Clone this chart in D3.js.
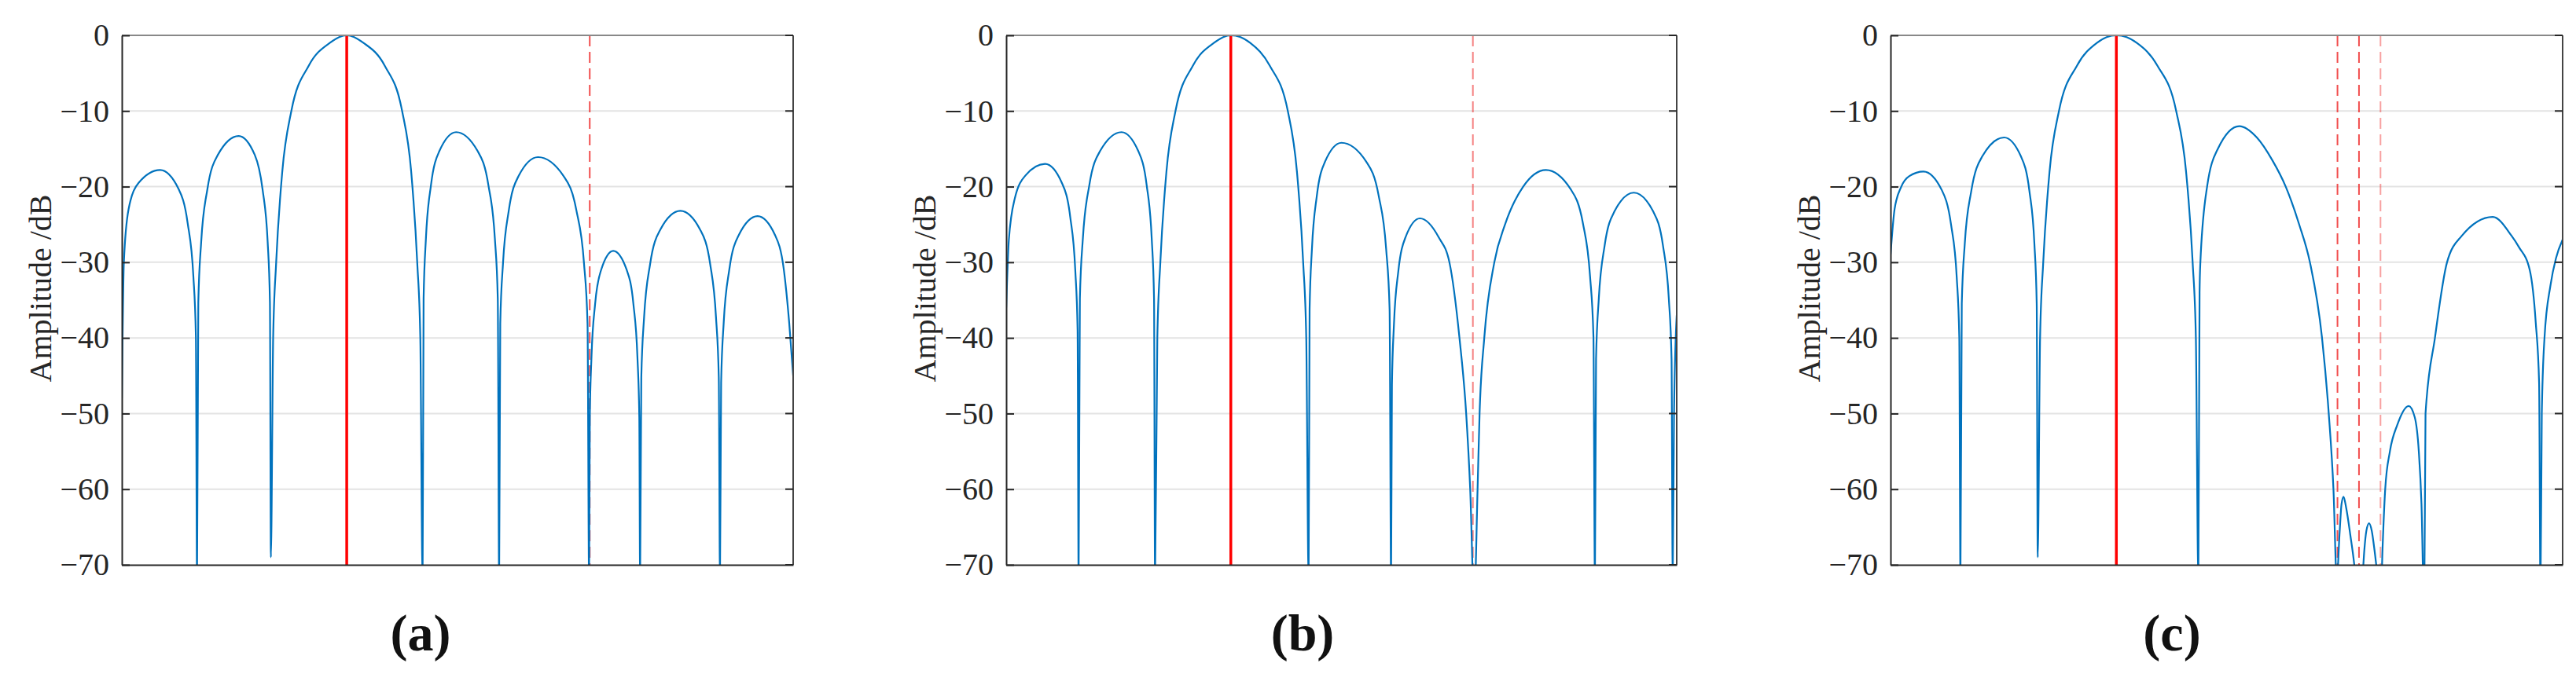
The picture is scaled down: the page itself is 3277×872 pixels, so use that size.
<!DOCTYPE html>
<html>
<head>
<meta charset="utf-8">
<script src="https://cdn.jsdelivr.net/npm/d3@7"></script>
<style>
  body { margin: 0; background: #fff; }
  text { font-family: "Liberation Serif", "DejaVu Serif", serif; fill: #262626; }
</style>
</head>
<body>
<script>
// beam pattern, x in % of the plot width, y in dB
var patternA = [
  [0,-48],[0.3,-30],[1,-23],[2.5,-19.5],[5.7,-17.8],[8.45,-20.3],[9.8,-24.8],[10.65,-31.8],[11.03,-39.8],[11.2,-72],
  [11.39,-35.3],[11.82,-27.3],[12.75,-20.3],[14.3,-15.8],[17.4,-13.3],[19.8,-15.8],[20.95,-20.3],[21.72,-27.3],[22.06,-35.3],[22.2,-69],
  [22.54,-40],[22.99,-30],[23.9,-18],[25.25,-10],[27.85,-4],[30.97,-1],[33.5,0],[36.0,-1],[39.15,-4],[41.75,-10],[43.1,-18],[44.0,-30],[44.46,-40],[44.8,-72],
  [44.95,-34.8],[45.3,-26.8],[46.05,-19.8],[47.3,-15.3],[49.8,-12.8],[53.0,-15.3],[54.6,-19.8],[55.56,-26.8],[56.0,-34.8],[56.2,-72],
  [56.37,-38.1],[56.78,-30.1],[57.65,-23.1],[59.1,-18.6],[62.0,-16.1],[65.8,-18.6],[67.7,-23.1],[68.84,-30.1],[69.37,-38.1],[69.6,-72],
  [69.71,-50.5],[69.96,-42.5],[70.5,-35.5],[71.4,-31],[73.2,-28.5],[75.2,-31],[76.2,-35.5],[76.8,-42.5],[77.08,-50.5],[77.2,-72],
  [77.38,-45.2],[77.8,-37.2],[78.7,-30.2],[80.2,-25.7],[83.2,-23.2],[86.15,-25.7],[87.63,-30.2],[88.5,-37.2],[88.92,-45.2],[89.1,-72],
  [89.27,-45.9],[89.66,-37.9],[90.5,-30.9],[91.9,-26.4],[94.7,-23.9],[97.3,-26.4],[98.6,-30.9],[99.4,-37.9],[100,-45]
];
var patternB = [
  [0,-36],[0.4,-27],[1.3,-21.5],[2.9,-18.5],[5.8,-17],[8.3,-19.5],[9.55,-24],[10.3,-31],[10.65,-39],[10.8,-72],
  [10.99,-34.8],[11.44,-26.8],[12.4,-19.8],[14.0,-15.3],[17.2,-12.8],[19.7,-15.3],[20.95,-19.8],[21.7,-26.8],[22.05,-34.8],[22.2,-72],
  [22.54,-40],[22.99,-30],[23.9,-18],[25.25,-10],[27.85,-4],[30.97,-1],[33.5,0],[36.4,-1],[39.3,-4],[42.0,-10],[43.36,-18],[44.29,-30],[44.75,-40],[45.1,-72],
  [45.25,-36.2],[45.6,-28.2],[46.33,-21.2],[47.55,-16.7],[50.0,-14.2],[53.7,-16.7],[55.55,-21.2],[56.66,-28.2],[57.18,-36.2],[57.4,-72],
  [57.53,-46.2],[57.83,-38.2],[58.48,-31.2],[59.55,-26.7],[61.7,-24.2],[64.5,-26.7],[66.1,-30],[67.6,-40],[68.6,-50],[69.2,-60],[69.8,-75],
  [70.3,-60],[70.6,-50],[71.3,-40],[72.8,-30],[74.4,-25],[77.1,-20],[80.5,-17.8],[84.15,-20.3],[86.0,-24.8],[87.07,-31.8],[87.58,-39.8],[87.8,-72],
  [87.97,-42.8],[88.38,-34.8],[89.25,-27.8],[90.7,-23.3],[93.6,-20.8],[96.5,-23.3],[97.95,-27.8],[98.82,-34.8],[99.23,-42.8],[99.4,-72],
  [99.6,-50],[100,-37]
];
var patternC = [
  [0,-29],[0.6,-23],[1.6,-20],[2.8,-18.6],[4.9,-18],[7.65,-20.5],[9.0,-25],[9.85,-32],[10.23,-40],[10.4,-72],
  [10.6,-35.5],[11.05,-27.5],[12.03,-20.5],[13.65,-16],[16.9,-13.5],[19.4,-16],[20.65,-20.5],[21.4,-27.5],[21.75,-35.5],[21.9,-69],
  [22.25,-40],[22.72,-30],[23.66,-18],[25.06,-10],[27.75,-4],[30.7,-1],[33.6,0],[36.65,-1],[39.7,-4],[42.5,-10],[43.97,-18],[44.95,-30],[45.43,-40],[45.8,-72],
  [45.98,-34],[46.1,-30],[47.1,-20],[48.7,-15],[51.9,-12],[54.5,-13.5],[56.8,-16.5],[58.8,-20],[60.8,-25],[62.4,-30],[64.2,-40],[65.2,-50],[65.9,-60],[66.4,-72],
  [66.8,-66],[67.1,-62],[67.4,-61],[67.8,-62.5],[68.4,-66],[69.0,-70],[69.6,-76],[70.2,-72],[70.5,-68],[70.8,-65.5],[71.2,-64.5],[71.6,-65.5],[72.0,-68],[72.5,-72],[72.9,-76],
  [73.2,-68],[73.6,-60],[74.3,-55],[75.4,-51.5],[77.1,-49],[78.0,-50.5],[78.6,-55],[79.0,-62],[79.4,-76],
  [79.6,-50],[81,-40],[82.8,-30],[85.0,-26.5],[89.6,-24],[92.4,-26.5],[93.5,-28],[95.1,-31],[96.0,-38],[96.5,-46],[96.7,-74],
  [96.9,-50],[97.3,-40],[98.2,-33],[99.0,-29.5],[100,-27]
];

// red markers: solid = steering direction, dashed = nulls
var steerA = 33.5, nullsA = [69.7];
var steerB = 33.5, nullsB = [69.6];
var steerC = 33.6, nullsC = [66.5, 69.7, 72.9];
var nullOpacityA = [0.85], nullOpacityB = [0.6], nullOpacityC = [0.85, 0.85, 0.45];

var yTicks = [0, -10, -20, -30, -40, -50, -60, -70];
var panelLabels = ["(a)", "(b)", "(c)"];

var panels = [
  {left: 155, right: 1009, data: patternA, steer: steerA, nulls: nullsA, op: nullOpacityA, lab: 535},
  {left: 1280, right: 2133, data: patternB, steer: steerB, nulls: nullsB, op: nullOpacityB, lab: 1657},
  {left: 2405, right: 3260, data: patternC, steer: steerC, nulls: nullsC, op: nullOpacityC, lab: 2763}
];
var plotTop = 45, plotBottom = 719;

var svg = d3.select("body").append("svg")
    .attr("width", 3277)
    .attr("height", 872);

var y = d3.scaleLinear().domain([-70, 0]).range([plotBottom, plotTop]);

panels.forEach(function(p, i) {
  var x = d3.scaleLinear().domain([0, 100]).range([p.left, p.right]);
  var g = svg.append("g");

  // grid
  g.selectAll(".grid").data(yTicks.slice(1, -1)).enter().append("line")
      .attr("x1", p.left).attr("x2", p.right)
      .attr("y1", d => y(d)).attr("y2", d => y(d))
      .attr("stroke", "#e3e3e3").attr("stroke-width", 2);

  g.append("clipPath").attr("id", "clip" + i)
    .append("rect").attr("x", p.left).attr("y", plotTop)
      .attr("width", p.right - p.left).attr("height", plotBottom - plotTop);

  var plot = g.append("g").attr("clip-path", "url(#clip" + i + ")");

  plot.selectAll(".null").data(p.nulls).enter().append("line")
      .attr("x1", d => x(d)).attr("x2", d => x(d))
      .attr("y1", plotTop).attr("y2", plotBottom)
      .attr("stroke", "#f03030").attr("stroke-width", 2)
      .attr("stroke-dasharray", "14,7")
      .attr("opacity", (d, j) => p.op[j]);

  plot.append("path")
      .datum(p.data)
      .attr("fill", "none")
      .attr("stroke", "#0072BD")
      .attr("stroke-width", 2.2)
      .attr("d", d3.line().x(d => x(d[0])).y(d => y(d[1])).curve(d3.curveMonotoneX));

  plot.append("line")
      .attr("x1", x(p.steer)).attr("x2", x(p.steer))
      .attr("y1", plotTop).attr("y2", plotBottom)
      .attr("stroke", "#ff0000").attr("stroke-width", 3.5);

  // box
  g.append("line").attr("x1", p.left).attr("x2", p.right).attr("y1", plotTop).attr("y2", plotTop)
      .attr("stroke", "#888").attr("stroke-width", 2);
  g.append("line").attr("x1", p.right).attr("x2", p.right).attr("y1", plotTop).attr("y2", plotBottom)
      .attr("stroke", "#444").attr("stroke-width", 2);

  g.append("g")
      .attr("transform", "translate(0," + plotBottom + ")")
      .call(d3.axisBottom(x).tickValues([]).tickSizeOuter(0))
      .call(a => a.select(".domain").attr("stroke", "#262626").attr("stroke-width", 2));

  var yAxis = g.append("g")
      .attr("transform", "translate(" + p.left + ",0)")
      .call(d3.axisLeft(y).tickValues(yTicks).tickSize(-10).tickSizeOuter(0).tickPadding(16)
        .tickFormat(d => d === 0 ? "0" : "\u2212" + Math.abs(d)));
  yAxis.select(".domain").attr("stroke", "#262626").attr("stroke-width", 2);
  yAxis.selectAll(".tick line").attr("stroke", "#262626").attr("stroke-width", 2);
  yAxis.selectAll(".tick text").attr("font-size", 40).attr("fill", "#262626")
      .attr("font-family", "'Liberation Serif', serif");

  g.selectAll(".rtick").data(yTicks).enter().append("line")
      .attr("x1", p.right - 10).attr("x2", p.right)
      .attr("y1", d => y(d)).attr("y2", d => y(d))
      .attr("stroke", "#262626").attr("stroke-width", 2);

  g.append("text")
      .attr("transform", "rotate(-90)")
      .attr("x", -(plotTop + plotBottom) / 2 + 15)
      .attr("y", p.left - 130)
      .attr("dy", "1em")
      .attr("font-size", 40)
      .style("text-anchor", "middle")
      .text("Amplitude /dB");

  g.append("text")
      .attr("x", p.lab)
      .attr("y", 828)
      .attr("font-size", 66)
      .attr("font-weight", "bold")
      .style("text-anchor", "middle")
      .style("fill", "#111")
      .text(panelLabels[i]);
});
</script>
</body>
</html>
